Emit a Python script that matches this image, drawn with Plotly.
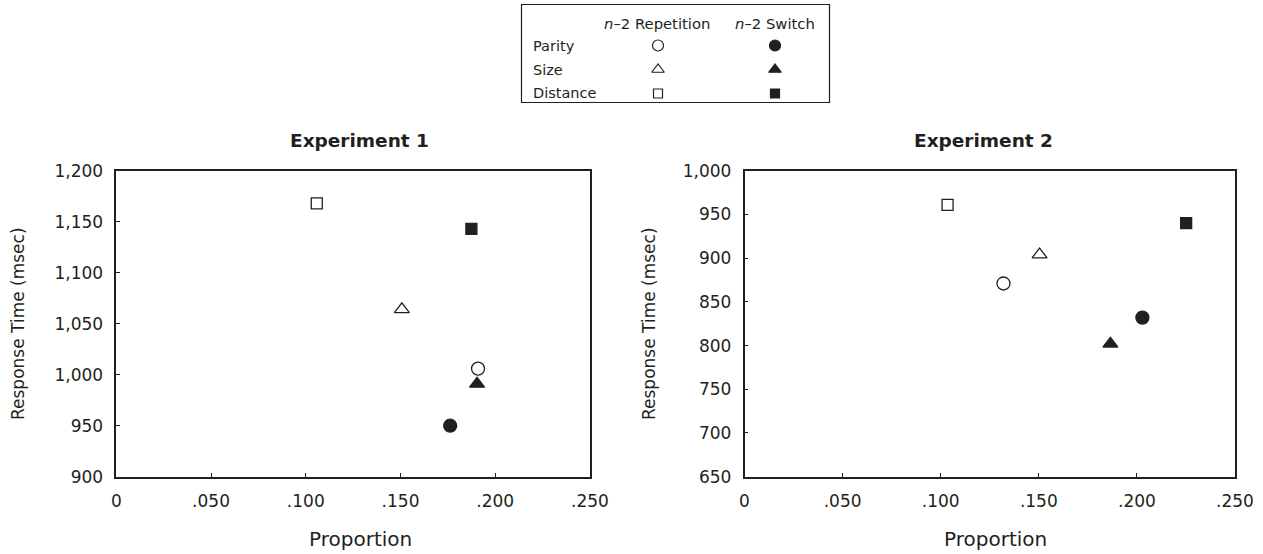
import plotly.graph_objects as go

# ---- data ----
conditions = ["Parity", "Size", "Distance"]
exp1_rep_x = [0.1909, 0.1507, 0.1058]
exp1_rep_y = [1006, 1064, 1168]
exp1_sw_x = [0.1762, 0.1904, 0.1874]
exp1_sw_y = [950, 991, 1143]
exp2_rep_x = [0.1320, 0.1504, 0.1035]
exp2_rep_y = [871, 904, 961]
exp2_sw_x = [0.2028, 0.1865, 0.2251]
exp2_sw_y = [832, 802, 940]

x_tickvals = [0, 0.05, 0.10, 0.15, 0.20, 0.25]
x_ticktext = ["0", ".050", ".100", ".150", ".200", ".250"]
y1_tickvals = [900, 950, 1000, 1050, 1100, 1150, 1200]
y1_ticktext = ["900", "950", "1,000", "1,050", "1,100", "1,150", "1,200"]
y2_tickvals = [650, 700, 750, 800, 850, 900, 950, 1000]
y2_ticktext = ["650", "700", "750", "800", "850", "900", "950", "1,000"]

# ---- styles ----
INK = "#231f20"
FONT = "DejaVu Sans"
W, H = 1263, 554
open_sym = ["circle-open", "triangle-up-open", "square-open"]
fill_sym = ["circle", "triangle-up", "square"]
sizes = [13, 13, 11]

fig = go.Figure()

def add_points(xs, ys, syms, xa, ya):
    for i in range(len(xs)):
        fig.add_trace(go.Scatter(
            x=[xs[i]], y=[ys[i]], mode="markers", xaxis=xa, yaxis=ya,
            showlegend=False, hoverinfo="x+y", name=conditions[i],
            marker=dict(symbol=syms[i], size=sizes[i], color=INK,
                        line=dict(color=INK, width=1.3))))

add_points(exp1_rep_x, exp1_rep_y, open_sym, "x", "y")
add_points(exp1_sw_x, exp1_sw_y, fill_sym, "x", "y")
add_points(exp2_rep_x, exp2_rep_y, open_sym, "x2", "y2")
add_points(exp2_sw_x, exp2_sw_y, fill_sym, "x2", "y2")

# legend markers on an overlay axis in pixel units
leg_rows_y = [45.5, 69.5, 93.5]
leg_col_rep, leg_col_sw = 658, 775
for i in range(3):
    fig.add_trace(go.Scatter(x=[leg_col_rep], y=[leg_rows_y[i]], mode="markers",
                             xaxis="x3", yaxis="y3", showlegend=False, hoverinfo="skip",
                             marker=dict(symbol=open_sym[i], size=sizes[i] - 2, color=INK,
                                         line=dict(color=INK, width=1.2))))
    fig.add_trace(go.Scatter(x=[leg_col_sw], y=[leg_rows_y[i]], mode="markers",
                             xaxis="x3", yaxis="y3", showlegend=False, hoverinfo="skip",
                             marker=dict(symbol=fill_sym[i], size=sizes[i] - 2, color=INK,
                                         line=dict(color=INK, width=1.2))))

def px_x(p):
    return p / W

def px_y(p):
    return 1 - p / H

tickfont = dict(family=FONT, size=17, color=INK)
common_x = dict(range=[0, 0.25], tickvals=x_tickvals, ticktext=x_ticktext,
                ticks="inside", ticklen=4, tickcolor=INK, showline=True, linecolor=INK,
                linewidth=1.5, mirror=True, showgrid=False, zeroline=False,
                tickfont=tickfont, fixedrange=True, automargin=False,
                ticklabelstandoff=8)
common_y = dict(ticks="inside", ticklen=4, tickcolor=INK, showline=True, linecolor=INK,
                linewidth=1.5, mirror=True, showgrid=False, zeroline=False,
                tickfont=tickfont, fixedrange=True, automargin=False,
                ticklabelstandoff=8)

ydom = [px_y(476.7), px_y(170.7)]
fig.update_layout(
    width=W, height=H,
    margin=dict(l=0, r=0, t=0, b=0, pad=0, autoexpand=False),
    paper_bgcolor="white", plot_bgcolor="rgba(0,0,0,0)",
    font=dict(family=FONT, color=INK),
    xaxis=dict(domain=[px_x(116.3), px_x(590)], anchor="y", **common_x),
    yaxis=dict(domain=ydom, anchor="x", range=[900, 1200], tickvals=y1_tickvals,
               ticktext=y1_ticktext, **common_y),
    xaxis2=dict(domain=[px_x(744.5), px_x(1235)], anchor="y2", **common_x),
    yaxis2=dict(domain=ydom, anchor="x2", range=[650, 1000], tickvals=y2_tickvals,
                ticktext=y2_ticktext, **common_y),
    xaxis3=dict(domain=[0, 1], range=[0, W], visible=False, fixedrange=True,
                anchor="y3", automargin=False),
    yaxis3=dict(domain=[0, 1], range=[H, 0], visible=False, fixedrange=True,
                anchor="x3", automargin=False),
    showlegend=False,
)

# legend box
fig.add_shape(type="rect", xref="paper", yref="paper",
              x0=px_x(521.5), x1=px_x(829.5), y0=px_y(102.5), y1=px_y(4.5),
              line=dict(color=INK, width=1.2), fillcolor="white", layer="below")

leg_font = dict(family=FONT, size=14.5, color=INK)
head_font = dict(family=FONT, size=14.8, color=INK)
annotations = []
annotations.append(dict(text="<i>n</i>–2 Repetition", x=px_x(657), y=px_y(24),
                        font=head_font, xanchor="center"))
annotations.append(dict(text="<i>n</i>–2 Switch", x=px_x(775), y=px_y(24),
                        font=head_font, xanchor="center"))
for i, c in enumerate(conditions):
    annotations.append(dict(text=c, x=px_x(531), y=px_y(leg_rows_y[i]),
                            font=leg_font, xanchor="left"))

title_font = dict(family=FONT, size=18.5, color=INK)
annotations.append(dict(text="<b>Experiment 1</b>", x=px_x(359), y=px_y(140),
                        font=title_font, xanchor="center"))
annotations.append(dict(text="<b>Experiment 2</b>", x=px_x(983), y=px_y(140),
                        font=title_font, xanchor="center"))
axis_title_font = dict(family=FONT, size=20, color=INK)
for xc in [360, 995]:
    annotations.append(dict(text="Proportion", x=px_x(xc), y=px_y(539),
                            font=axis_title_font, xanchor="center"))
vert_font = dict(family=FONT, size=17, color=INK)
for xc in [18, 649]:
    annotations.append(dict(text="Response Time (msec)", x=px_x(xc), y=px_y(324),
                            font=vert_font, xanchor="center", textangle=-90))
for a in annotations:
    a.update(xref="paper", yref="paper", showarrow=False, yanchor="middle")
fig.update_layout(annotations=annotations)

fig.write_html("out.html", config={"displayModeBar": False},
               post_script="document.body.style.margin='0';document.body.style.overflow='hidden';")
